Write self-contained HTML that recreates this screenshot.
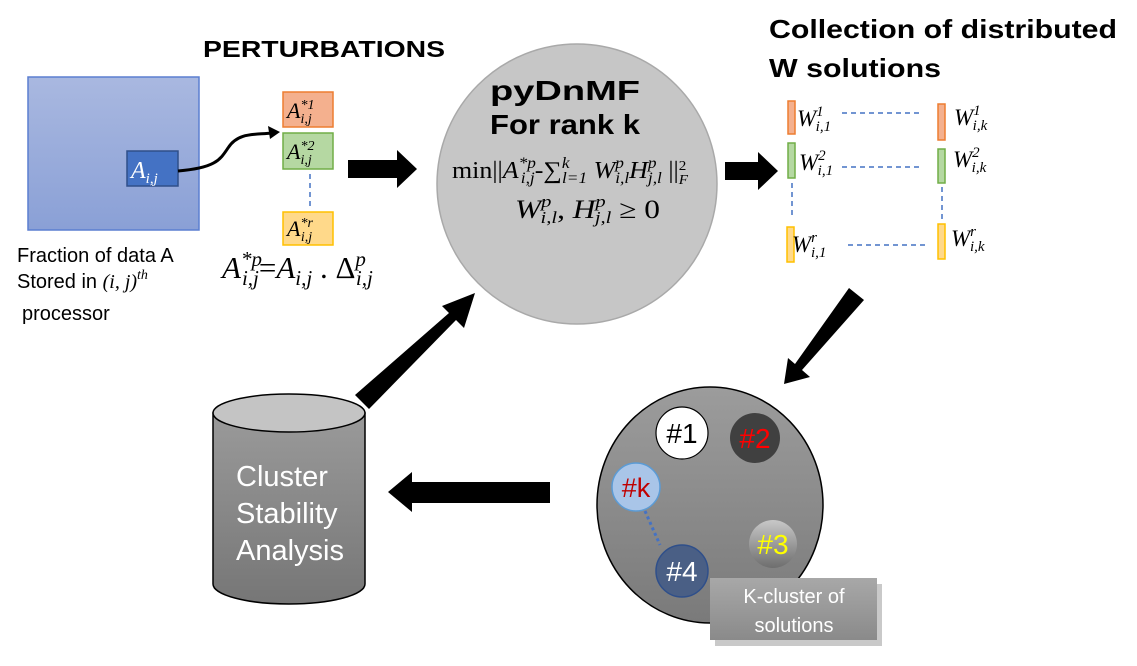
<!DOCTYPE html>
<html><head><meta charset="utf-8"><style>
body{margin:0;background:#fff;}
svg{display:block;font-family:"Liberation Sans",sans-serif;}
.m{font-family:"Liberation Serif",serif;font-style:italic;}
</style></head><body>
<svg width="1137" height="666" viewBox="0 0 1137 666" xmlns="http://www.w3.org/2000/svg">
<defs>
<linearGradient id="bg1" x1="0" y1="0" x2="0" y2="1"><stop offset="0" stop-color="#a9b8e0"/><stop offset="1" stop-color="#8aa0d6"/></linearGradient>
<linearGradient id="cyl" x1="0" y1="0" x2="0" y2="1"><stop offset="0" stop-color="#9a9a9a"/><stop offset="1" stop-color="#767676"/></linearGradient>
<linearGradient id="cl" x1="0" y1="0" x2="0" y2="1"><stop offset="0" stop-color="#9c9c9c"/><stop offset="1" stop-color="#7a7a7a"/></linearGradient>
<linearGradient id="g3" x1="0" y1="0" x2="0" y2="1"><stop offset="0" stop-color="#c8c8c8"/><stop offset="1" stop-color="#6e6e6e"/></linearGradient>
<linearGradient id="kb" x1="0" y1="0" x2="0" y2="1"><stop offset="0" stop-color="#a8a8a8"/><stop offset="1" stop-color="#8a8a8a"/></linearGradient>
</defs>

<text x="203" y="57" font-size="23" font-weight="bold" textLength="242" lengthAdjust="spacingAndGlyphs">PERTURBATIONS</text>
<text x="769" y="38" font-size="26" font-weight="bold" textLength="348" lengthAdjust="spacingAndGlyphs">Collection of distributed</text>
<text x="769" y="77" font-size="26" font-weight="bold" textLength="172" lengthAdjust="spacingAndGlyphs">W solutions</text>

<rect x="28" y="77" width="171" height="153" fill="url(#bg1)" stroke="#5b7fd0" stroke-width="1.5"/>
<rect x="127" y="151" width="51" height="35" fill="#4472c4" stroke="#2f4f8a" stroke-width="1.5"/>
<text x="131" y="178" class="m" font-size="24" fill="#fff">A<tspan font-size="15" dy="5">i,j</tspan></text>
<path d="M178,171 C215,168 220,160 228,148 C238,132 255,135 272,133" fill="none" stroke="#000" stroke-width="3"/>
<polygon points="280,132 268,126 270,139" fill="#000"/>

<rect x="283" y="92" width="50" height="35" fill="#f4b08e" stroke="#ed7d31" stroke-width="1.5"/>
<text x="287" y="118" class="m" font-size="22">A<tspan font-size="14" dy="-9">*1</tspan><tspan font-size="14" dx="-14" dy="14">i,j</tspan></text>
<rect x="283" y="133" width="50" height="36" fill="#b5d8a2" stroke="#70ad47" stroke-width="1.5"/>
<text x="287" y="159" class="m" font-size="22">A<tspan font-size="14" dy="-9">*2</tspan><tspan font-size="14" dx="-14" dy="14">i,j</tspan></text>
<line x1="310" y1="174" x2="310" y2="206" stroke="#4472c4" stroke-width="1.5" stroke-dasharray="5,4"/>
<rect x="283" y="212" width="50" height="33" fill="#ffd98a" stroke="#ffc000" stroke-width="1.5"/>
<text x="287" y="236" class="m" font-size="22">A<tspan font-size="14" dy="-9">*r</tspan><tspan font-size="14" dx="-12" dy="14">i,j</tspan></text>

<text x="17" y="262" font-size="20">Fraction of data A</text>
<text x="17" y="288" font-size="20">Stored in <tspan class="m">(i, j)</tspan><tspan class="m" font-size="14" dy="-9">th</tspan></text>
<text x="22" y="320" font-size="20">processor</text>
<text x="222" y="278" class="m" font-size="31">A<tspan font-size="21" dy="-12">*p</tspan><tspan font-size="21" dx="-20" dy="19">i,j</tspan><tspan font-style="normal" font-size="31" dy="-7">=</tspan>A<tspan font-size="21" dy="7">i,j</tspan><tspan font-style="normal" font-size="31" dy="-7"> . Δ</tspan><tspan font-size="21" dy="-12">p</tspan><tspan font-size="21" dx="-10" dy="19">i,j</tspan></text>

<circle cx="577" cy="184" r="140" fill="#c6c6c6" stroke="#a9a9a9" stroke-width="1.5"/>
<text x="565" y="100" font-size="28" font-weight="bold" text-anchor="middle" textLength="150" lengthAdjust="spacingAndGlyphs">pyDnMF</text>
<text x="565" y="134" font-size="28" font-weight="bold" text-anchor="middle" textLength="150" lengthAdjust="spacingAndGlyphs">For rank k</text>
<text x="452" y="178" font-family="Liberation Serif,serif" font-size="24" textLength="236" lengthAdjust="spacingAndGlyphs">min||<tspan font-style="italic">A</tspan><tspan font-style="italic" font-size="16" dy="-10">*p</tspan><tspan font-style="italic" font-size="16" dx="-14" dy="15">i,j</tspan><tspan dy="-5">-∑</tspan><tspan font-style="italic" font-size="16" dy="-10">k</tspan><tspan font-style="italic" font-size="16" dx="-7" dy="15">l=1</tspan><tspan font-style="italic" dy="-5"> W</tspan><tspan font-style="italic" font-size="16" dy="-10">p</tspan><tspan font-style="italic" font-size="16" dx="-8" dy="15">i,l</tspan><tspan font-style="italic" dy="-5">H</tspan><tspan font-style="italic" font-size="16" dy="-10">p</tspan><tspan font-style="italic" font-size="16" dx="-8" dy="15">j,l</tspan><tspan dy="-5"> ||</tspan><tspan font-size="14" dy="-8">2</tspan><tspan font-style="italic" font-size="14" dx="-7" dy="14">F</tspan></text>
<text x="515" y="218" font-family="Liberation Serif,serif" font-size="26" textLength="145" lengthAdjust="spacingAndGlyphs"><tspan font-style="italic">W</tspan><tspan font-style="italic" font-size="17" dy="-11">p</tspan><tspan font-style="italic" font-size="17" dx="-9" dy="16">i,l</tspan><tspan dy="-5">, </tspan><tspan font-style="italic">H</tspan><tspan font-style="italic" font-size="17" dy="-11">p</tspan><tspan font-style="italic" font-size="17" dx="-9" dy="16">j,l</tspan><tspan dy="-5">  ≥ 0</tspan></text>

<polygon points="348,160 397,160 397,150 417,169 397,188 397,178 348,178" fill="#000"/>
<polygon points="725,162 758,162 758,152 778,171 758,190 758,180 725,180" fill="#000"/>
<polygon points="849,288 864,300 802,370 810,377 784,384 788,358 795,364" fill="#000"/>
<polygon points="550,482 550,503 412,503 412,512 388,492 412,472 412,482" fill="#000"/>
<polygon points="355,395 369,409 456,320 464,328 475,293 442,306 449,313" fill="#000"/>

<g stroke-width="1.5">
<rect x="788" y="101" width="7" height="33" fill="#f4b08e" stroke="#ed7d31"/>
<rect x="788" y="143" width="7" height="35" fill="#b5d8a2" stroke="#70ad47"/>
<rect x="787" y="227" width="7" height="35" fill="#ffd98a" stroke="#ffc000"/>
<rect x="938" y="104" width="7" height="36" fill="#f4b08e" stroke="#ed7d31"/>
<rect x="938" y="149" width="7" height="34" fill="#b5d8a2" stroke="#70ad47"/>
<rect x="938" y="224" width="7" height="35" fill="#ffd98a" stroke="#ffc000"/>
</g>
<g stroke="#4472c4" stroke-width="1.5" stroke-dasharray="5,4" fill="none">
<line x1="842" y1="113" x2="922" y2="113"/>
<line x1="842" y1="167" x2="922" y2="167"/>
<line x1="848" y1="245" x2="928" y2="245"/>
<line x1="792" y1="183" x2="792" y2="218"/>
<line x1="942" y1="187" x2="942" y2="220"/>
</g>
<g class="m" font-size="23">
<text x="797" y="126">W<tspan font-size="15" dy="-10">1</tspan><tspan font-size="15" dx="-8" dy="15">i,1</tspan></text>
<text x="799" y="170">W<tspan font-size="15" dy="-10">2</tspan><tspan font-size="15" dx="-8" dy="15">i,1</tspan></text>
<text x="792" y="252">W<tspan font-size="15" dy="-10">r</tspan><tspan font-size="15" dx="-6" dy="15">i,1</tspan></text>
<text x="954" y="125">W<tspan font-size="15" dy="-10">1</tspan><tspan font-size="15" dx="-8" dy="15">i,k</tspan></text>
<text x="953" y="167">W<tspan font-size="15" dy="-10">2</tspan><tspan font-size="15" dx="-8" dy="15">i,k</tspan></text>
<text x="951" y="246">W<tspan font-size="15" dy="-10">r</tspan><tspan font-size="15" dx="-6" dy="15">i,k</tspan></text>
</g>

<ellipse cx="710" cy="505" rx="113" ry="118" fill="url(#cl)" stroke="#000" stroke-width="1.5"/>
<circle cx="682" cy="433" r="26" fill="#fff" stroke="#000" stroke-width="1.2"/>
<text x="682" y="443" font-size="28" text-anchor="middle">#1</text>
<circle cx="755" cy="438" r="25" fill="#404040"/>
<text x="755" y="448" font-size="28" text-anchor="middle" fill="#ff0000">#2</text>
<line x1="645" y1="511" x2="660" y2="545" stroke="#4472c4" stroke-width="3" stroke-dasharray="3,3"/>
<circle cx="636" cy="487" r="24" fill="#a9c5e8" stroke="#5b9bd5" stroke-width="1.5"/>
<text x="636" y="497" font-size="27" text-anchor="middle" fill="#c00000">#k</text>
<circle cx="773" cy="544" r="24" fill="url(#g3)"/>
<text x="773" y="554" font-size="28" text-anchor="middle" fill="#ffff00">#3</text>
<circle cx="682" cy="571" r="26" fill="#4a5f85" stroke="#2f4f8a" stroke-width="1.5"/>
<text x="682" y="581" font-size="28" text-anchor="middle" fill="#fff">#4</text>
<rect x="713" y="581" width="167" height="62" fill="#777" opacity="0.4" transform="translate(2,3)"/>
<rect x="710" y="578" width="167" height="62" fill="url(#kb)"/>
<text x="794" y="603" font-size="20" text-anchor="middle" fill="#fff">K-cluster of</text>
<text x="794" y="632" font-size="20" text-anchor="middle" fill="#fff">solutions</text>

<path d="M213,413 L213,584 A76,20 0 0 0 365,584 L365,413 Z" fill="url(#cyl)" stroke="#000" stroke-width="1.5"/>
<ellipse cx="289" cy="413" rx="76" ry="19" fill="#c4c4c4" stroke="#000" stroke-width="1.5"/>
<text x="236" y="486" font-size="29" fill="#fff">Cluster</text>
<text x="236" y="523" font-size="29" fill="#fff">Stability</text>
<text x="236" y="560" font-size="29" fill="#fff">Analysis</text>
</svg>
</body></html>
